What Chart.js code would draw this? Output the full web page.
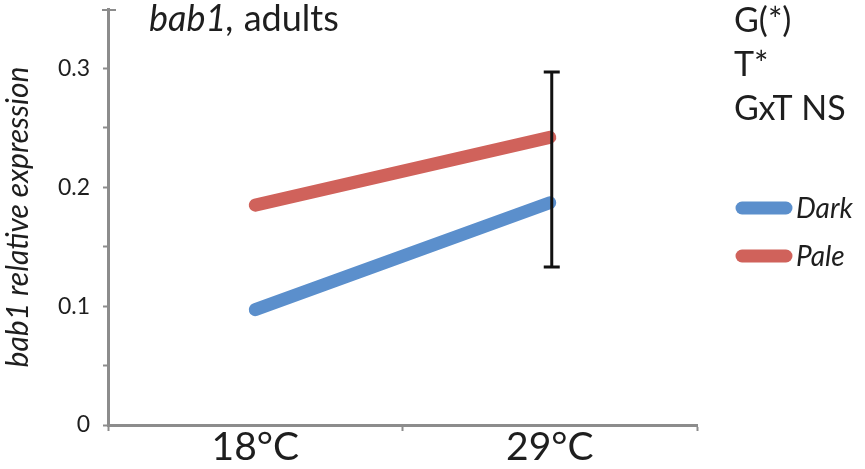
<!DOCTYPE html>
<html><head><meta charset="utf-8">
<script src="https://cdn.jsdelivr.net/npm/chart.js@4"></script>
<style>html,body{margin:0;padding:0;background:#fff}#wrap{width:865px;height:469px;position:relative}</style>
</head><body><div id="wrap"><canvas id="c" width="865" height="469"></canvas></div>
<script>
const categories = ["18°C", "29°C"];
const darkValues = [0.097, 0.187];
const paleValues = [0.185, 0.242];
const errorCategory = "29°C";
const errorLow = 0.133;
const errorHigh = 0.297;
const yTicks = [0, 0.05, 0.1, 0.15, 0.2, 0.25, 0.3];
const yLabelled = [0, 0.1, 0.2, 0.3];
const yMax = 0.35;
const statsLines = ["G(*)", "T*", "GxT NS"];
const seriesNames = ["Dark", "Pale"];

const FONT = "Lato, 'Open Sans', sans-serif";

const overlay = {
  id: 'overlay',
  afterDatasetsDraw(chart) {
    const ctx = chart.ctx, x = chart.scales.x, y = chart.scales.y;
    ctx.save();
    // y axis top cap
    ctx.strokeStyle = '#8c8c8c'; ctx.lineWidth = 2;
    ctx.beginPath(); ctx.moveTo(x.left - 6, y.top + 1); ctx.lineTo(x.left + 8, y.top + 1); ctx.stroke();
    // error bar
    const idx = categories.indexOf(errorCategory);
    const ex = x.getPixelForValue(idx) + 2;
    const yl = y.getPixelForValue(errorLow), yh = y.getPixelForValue(errorHigh);
    ctx.strokeStyle = '#111'; ctx.lineWidth = 3;
    ctx.beginPath();
    ctx.moveTo(ex, yl); ctx.lineTo(ex, yh);
    ctx.moveTo(ex - 8, yl); ctx.lineTo(ex + 8, yl);
    ctx.moveTo(ex - 8, yh); ctx.lineTo(ex + 8, yh);
    ctx.stroke();
    // title
    ctx.fillStyle = '#1e1e1e'; ctx.textBaseline = 'alphabetic'; ctx.textAlign = 'left';
    ctx.font = "italic 36px " + FONT;
    const t1 = "bab1,";
    ctx.fillText(t1, 149, 31);
    const w1 = ctx.measureText(t1).width;
    ctx.font = "36px " + FONT;
    ctx.fillText(" adults", 149 + w1, 31);
    // stats
    ctx.font = "34px " + FONT;
    const sy = [32, 76, 120];
    statsLines.forEach((s, i) => ctx.fillText(s, 734, sy[i]));
    // legend
    chart.data.datasets.forEach((ds, i) => {
      const ly = 208 + i * 48;
      ctx.strokeStyle = ds.borderColor; ctx.lineWidth = 13; ctx.lineCap = 'round';
      ctx.beginPath(); ctx.moveTo(742, ly); ctx.lineTo(786, ly); ctx.stroke();
      ctx.font = "italic 28px " + FONT; ctx.fillStyle = '#1e1e1e';
      ctx.textBaseline = 'middle';
      ctx.fillText(ds.label, 796, ly + 1);
    });
    ctx.restore();
  }
};

new Chart(document.getElementById('c'), {
  type: 'line',
  data: {
    labels: categories,
    datasets: [
      { label: seriesNames[0], data: darkValues, borderColor: '#5b8fcc', backgroundColor: '#5b8fcc', borderWidth: 13, borderCapStyle: 'round', pointRadius: 0, tension: 0 },
      { label: seriesNames[1], data: paleValues, borderColor: '#d0625b', backgroundColor: '#d0625b', borderWidth: 13, borderCapStyle: 'round', pointRadius: 0, tension: 0 }
    ]
  },
  options: {
    responsive: false, animation: false,
    layout: { padding: { left: 0, right: 168, top: 9, bottom: 0 } },
    plugins: { legend: { display: false }, tooltip: { enabled: false }, title: { display: false } },
    scales: {
      x: {
        offset: true,
        grid: { display: true, drawOnChartArea: false, drawTicks: true, tickLength: 6, offset: true, color: '#8c8c8c', tickWidth: 2 },
        border: { display: true, color: '#8c8c8c', width: 3 },
        ticks: { color: '#1e1e1e', font: { family: FONT, size: 39, lineHeight: 1 }, padding: -3 },
        afterFit(s) { s.height = 44; s.paddingLeft = 0; s.paddingRight = 0; }
      },
      y: {
        min: 0, max: yMax,
        afterBuildTicks(s) { s.ticks = yTicks.map(v => ({ value: v })); },
        grid: { drawOnChartArea: false, drawTicks: true, tickLength: 5, color: '#8c8c8c', tickWidth: 2 },
        border: { display: true, color: '#8c8c8c', width: 3 },
        ticks: { color: '#1e1e1e', font: { family: FONT, size: 23 }, padding: 13,
          callback: v => yLabelled.some(t => Math.abs(t - v) < 1e-9) ? String(v) : '' },
        title: { display: true, text: 'bab1 relative expression', color: '#1e1e1e', font: { family: FONT, size: 30, style: 'italic', lineHeight: 1 }, padding: { top: 3, bottom: 0 } },
        afterFit(s) { s.width = 108; s.paddingTop = 0; s.paddingBottom = 0; }
      }
    }
  },
  plugins: [overlay]
});
</script></body></html>
